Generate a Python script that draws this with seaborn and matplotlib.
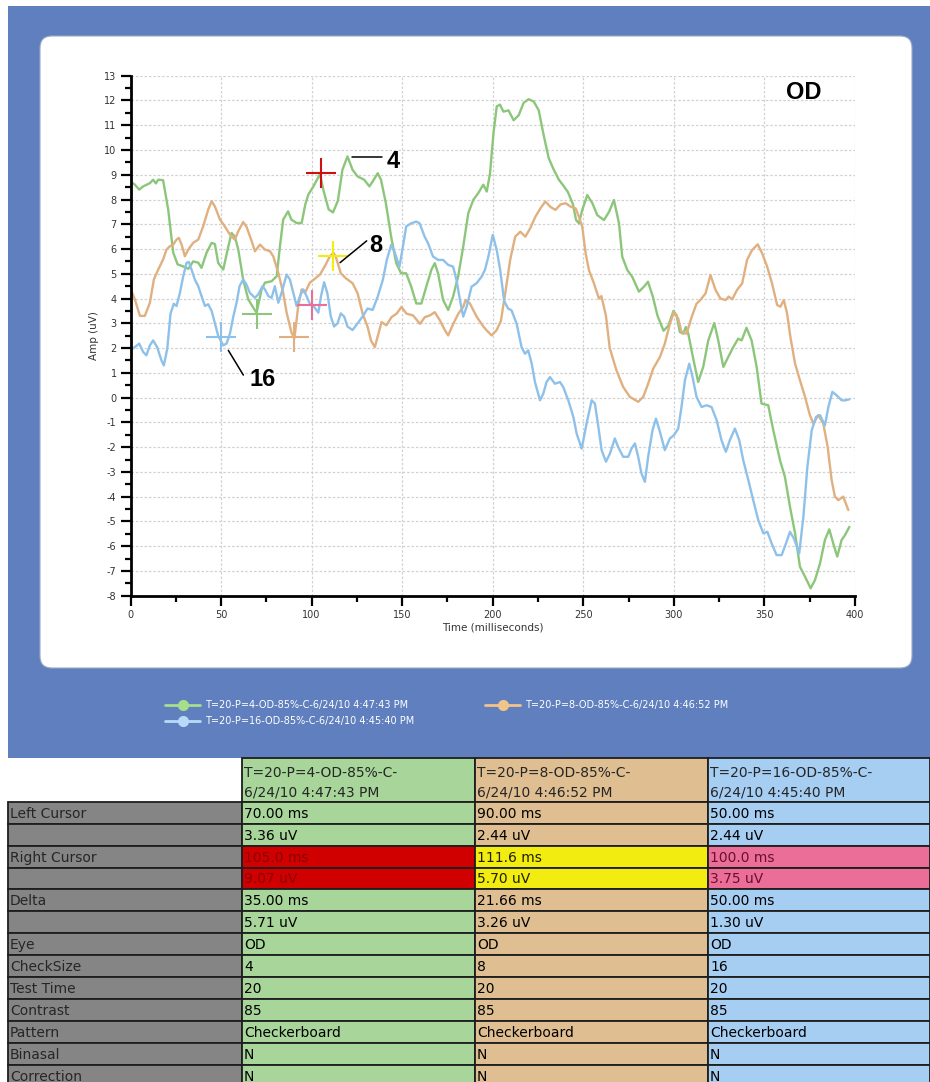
import matplotlib
matplotlib.use("Agg")
import numpy as np
import pandas as pd
import matplotlib.pyplot as plt
import seaborn as sns
from matplotlib.patches import Rectangle, FancyBboxPatch
from matplotlib.ticker import MultipleLocator

sns.set_style("white")
plt.rcParams["font.family"] = ["DejaVu Sans"]
plt.rcParams["axes.unicode_minus"] = False

# ---------------- data ----------------
series_names = ["T=20-P=4-OD-85%-C-6/24/10 4:47:43 PM",
                "T=20-P=8-OD-85%-C-6/24/10 4:46:52 PM",
                "T=20-P=16-OD-85%-C-6/24/10 4:45:40 PM"]

green_t = [0, 2.4, 4.8, 7, 10.7, 12.5, 14, 15.3, 18, 20.8, 23.6, 26, 29, 31.9, 34.6, 37.4, 39.2, 42, 44.8, 46.6,
           48.4, 51.2, 54, 55.8, 57.6, 59.5, 62.2, 65, 67.8, 69.6, 72.4, 74.2, 77.9, 80.7, 82.5, 84.3, 87, 88.8,
           91.7, 94.5, 96.5, 98.2, 101, 104.6, 106.6, 109.4, 111.8, 114.5, 117, 119.8, 122.6, 125.4, 129, 131.9,
           133.7, 136.5, 138.3, 141, 143.9, 146.7, 149.4, 152.2, 155, 157.8, 160.6, 163.3, 166.1, 168, 169.8,
           172.6, 175.4, 178.1, 180.9, 183.7, 186.5, 189.3, 192, 194.8, 196.7, 198.5, 200.4, 202.2, 204, 205.9,
           208.7, 211.5, 214.3, 217, 219.8, 222.6, 225.4, 228.1, 230.9, 233.7, 236.5, 239.3, 241.5, 244.3, 246,
           247.6, 249.4, 252.2, 255, 257.7, 261.4, 264.2, 266.9, 269.7, 271.5, 274.3, 277, 280.7, 283.5, 285.7,
           288.3, 291, 294.3, 296.9, 299.8, 301.5, 303.3, 305.2, 306.6, 307.9, 310.7, 313.4, 316.2, 319, 322.3,
           324.5, 327.3, 330, 332.8, 335.5, 337.4, 340.1, 342.9, 345.7, 348.4, 352.1, 354.9, 358.6, 361.3, 364.1,
           366.9, 369.6, 372.4, 375.5, 377.9, 380.7, 383.4, 385.8, 388, 390.2, 392.6, 394.5, 396.9]
green_v = [8.73, 8.6, 8.4, 8.53, 8.66, 8.8, 8.65, 8.8, 8.78, 7.6, 5.85, 5.38, 5.3, 5.2, 5.5, 5.45, 5.24, 5.85, 6.25, 6.2,
           5.44, 5.17, 6.1, 6.65, 6.5, 5.98, 4.77, 3.97, 3.63, 3.43, 4.37, 4.64, 4.7, 4.9, 6.1, 7.19, 7.52, 7.19,
           7.05, 7.05, 7.8, 8.2, 8.53, 9.03, 8.35, 7.6, 7.48, 7.95, 9.2, 9.74, 9.2, 8.93, 8.8, 8.53,
           8.73, 9.06, 8.8, 7.85, 6.5, 5.43, 5.02, 5.02, 4.48, 3.8, 3.8, 4.48, 5.16, 5.43, 5.02,
           3.94, 3.54, 4.08, 4.89, 6.1, 7.45, 7.99, 8.26, 8.6, 8.32, 9.06, 10.68, 11.76, 11.83, 11.55,
           11.6, 11.2, 11.4, 11.9, 12.05, 11.96, 11.6, 10.6, 9.67, 9.2, 8.8, 8.53, 8.3, 7.8, 7.17,
           7.04, 7.58, 8.18, 7.85, 7.37, 7.17, 7.5, 7.98, 7.04, 5.69, 5.15, 4.88, 4.28, 4.48, 4.68,
           4.1, 3.3, 2.7, 2.9, 3.5, 3.32, 2.65, 2.58, 2.85, 2.6, 1.57, 0.63, 1.24, 2.31, 3.01,
           2.31, 1.24, 1.64, 2.04, 2.38, 2.31, 2.82, 2.31, 1.24, -0.24, -0.31, -1.32, -2.53, -3.2, -4.41,
           -5.48, -6.83, -7.23, -7.7, -7.37, -6.69, -5.75, -5.32, -5.89, -6.42, -5.75, -5.55, -5.22]

orange_t = [0, 2.4, 5.2, 7.9, 10.7, 12.9, 15.3, 18, 19.9, 21.7, 23.6, 25.4, 26.7, 28.2, 30, 31.9, 34.6, 37.4, 40.1,
            42.9, 44.8, 46.6, 49.4, 52.1, 54.9, 57.6, 59.5, 62.2, 64, 66.9, 68.7, 71.5, 74.2, 77, 78.8, 81.6, 84.3,
            86.2, 88.9, 90.5, 92.6, 94.5, 96.3, 99, 101.8, 104.6, 107.3, 110.1, 112, 113.3, 116.1, 118.9, 122.6,
            125.4, 128.1, 130.9, 132.8, 134.9, 138.6, 141.3, 144.1, 146.9, 149.6, 152.4, 156, 159.8, 162.5, 165.3,
            168, 170.8, 173.6, 175.4, 178.2, 181, 183.7, 185, 187.4, 191.1, 194.8, 196.6, 199.4, 202.1, 204.5,
            206.9, 209.6, 212.4, 215.2, 218, 220.7, 223.5, 226.3, 229, 231.9, 234.6, 237.4, 240.3, 243, 245.8,
            247.6, 249.4, 251.3, 253.1, 255.9, 258.6, 260, 262.5, 264.6, 268.3, 272, 275.7, 280.3, 283.1, 285.8,
            288.6, 292.3, 295, 297.8, 300, 302.4, 304.2, 307, 309.8, 312.5, 314.7, 317.5, 320.2, 323, 325.7, 328.5,
            330.3, 332.2, 334.9, 337.7, 340.4, 343.2, 346.3, 348.7, 351.5, 354.2, 357, 358.8, 360.7, 362.5, 364.3,
            366.9, 369.6, 372.4, 375.1, 377, 379.7, 382.5, 384.9, 387.1, 388.9, 390.8, 393.5, 396.3]
orange_v = [4.4, 3.97, 3.3, 3.3, 3.83, 4.77, 5.17, 5.58, 5.98, 6.11, 6.18, 6.38, 6.45, 6.18, 5.71, 5.98, 6.25, 6.38, 6.91,
            7.59, 7.93, 7.72, 7.19, 6.91, 6.58, 6.38, 6.72, 7.09, 6.91, 6.32, 5.91, 6.18, 5.98, 5.91, 5.71, 5.04, 4.23,
            3.43, 2.62, 2.4, 3.7, 4.37, 4.23, 4.64, 4.8, 4.97, 5.31, 5.71, 5.85, 5.7, 5.02, 4.82, 4.62,
            4.21, 3.4, 2.86, 2.3, 2.04, 3.05, 2.92, 3.25, 3.39, 3.66, 3.39, 3.32, 2.98, 3.25, 3.32,
            3.45, 3.12, 2.72, 2.51, 2.98, 3.39, 3.66, 3.94, 3.8, 3.27, 2.87, 2.72, 2.51, 2.72, 3.1,
            4.21, 5.56, 6.5, 6.7, 6.5, 6.84, 7.3, 7.64, 7.92, 7.7, 7.58, 7.8, 7.85, 7.71, 7.64,
            7.3, 6.9, 5.82, 5.15, 4.61, 4.0, 4.1, 3.3, 2.0, 1.1, 0.43, 0.03, -0.17, 0.03, 0.56,
            1.17, 1.64, 2.18, 2.98, 3.45, 3.19, 2.65, 2.58, 3.25, 3.79, 3.95, 4.21, 4.95, 4.35, 4.0, 3.94,
            4.08, 3.97, 4.35, 4.61, 5.56, 5.96, 6.19, 5.83, 5.29, 4.61, 3.74, 3.67, 3.94, 3.4, 2.46,
            1.37, 0.7, 0.03, -0.71, -1.05, -0.71, -1.05, -1.99, -3.33, -4.0, -4.14, -4.0, -4.54]

blue_t = [0, 2.4, 4.8, 7, 8.8, 10.7, 12.5, 14.7, 17.1, 18.4, 20.3, 22.1, 23.9, 25.4, 27.3, 29.1, 30.9, 32.2, 33.7,
          35.5, 37.4, 39.2, 41.1, 42.9, 44.8, 46.6, 48.4, 51.2, 53, 54.9, 56.7, 58.6, 60.2, 62.2, 64, 65.9, 68.7,
          70.5, 72.9, 74.2, 76.1, 77.9, 79.7, 81.6, 83.4, 86.2, 88, 89.9, 91.7, 93.6, 95.4, 97.2, 99.1, 101, 103.7,
          105.2, 106.9, 108.7, 110.6, 112.4, 114.3, 116.1, 118, 119.8, 122.6, 125.4, 128.1, 130.9, 133.7, 136.5,
          139.3, 141.5, 143.9, 145.7, 148.5, 150.4, 152.2, 155, 157.8, 159.6, 162.4, 164.3, 167, 169.8, 172.6,
          175.4, 178.1, 180, 181.9, 183.7, 185.6, 188.3, 191.1, 193.9, 195.7, 197.6, 200, 202.2, 204.1, 206.3,
          208.5, 210.4, 213.2, 215.9, 217.8, 219.6, 221.5, 223.3, 226.1, 227.9, 229.7, 231.6, 234.3, 237.1, 238.9,
          241.7, 244.5, 246.3, 249.1, 251.8, 254.6, 256.4, 258.3, 260.1, 262.5, 264.7, 267.4, 269.2, 272, 274.8,
          276.6, 278.5, 280.3, 282.1, 284, 285.8, 288.2, 290.1, 292.3, 295, 297.8, 300, 302.4, 304.2, 306.1, 308.5,
          310.3, 312.5, 315.3, 318, 320.8, 323.6, 326.3, 328.7, 330.9, 333.7, 336.1, 338.3, 341.1, 343.8, 346.6,
          349.4, 351.6, 354, 356.7, 359.5, 361.9, 364.1, 366.3, 369.2, 371.5, 373.7, 376.1, 378.5, 380.7, 383.4,
          385.3, 387.5, 389.9, 392.6, 394.5, 396.9]
blue_v = [1.91, 2.04, 2.18, 1.84, 1.71, 2.11, 2.31, 2.04, 1.5, 1.3, 1.98, 3.39, 3.79, 3.7, 4.23, 4.9, 5.44, 5.48, 5.17,
          4.77, 4.5, 4.1, 3.7, 3.77, 3.5, 3.0, 2.5, 2.11, 2.18, 2.58, 3.25, 3.85, 4.5, 4.77, 4.57, 4.23, 4.03,
          4.17, 4.5, 4.37, 4.1, 4.03, 4.5, 3.83, 4.23, 4.97, 4.77, 4.23, 3.7, 4.1, 4.37, 4.1, 3.77, 3.7, 3.43,
          4.1, 4.66, 4.21, 3.27, 2.87, 3.0, 3.4, 3.27, 2.87, 2.73, 3.0, 3.27, 3.6, 3.54, 4.08,
          4.75, 5.56, 6.17, 5.9, 5.29, 6.1, 6.91, 7.04, 7.11, 7.04, 6.5, 6.23, 5.7, 5.56, 5.56,
          5.36, 5.29, 4.75, 3.94, 3.27, 3.67, 4.48, 4.62, 4.89, 5.16, 5.7, 6.57, 5.96, 5.16, 3.9,
          3.6, 3.52, 2.98, 2.04, 1.77, 1.91, 1.37, 0.63, -0.11, 0.16, 0.63, 0.83, 0.56, 0.63, 0.43,
          -0.11, -0.78, -1.45, -2.06, -1.05, -0.11, -0.24, -1.18, -2.12, -2.59, -2.26, -1.65, -1.99, -2.39, -2.39,
          -2.06, -1.85, -2.39, -3.06, -3.4, -2.39, -1.32, -0.85, -1.38, -2.12, -1.65, -1.52, -1.25, -0.38, 0.7, 1.37,
          0.83, 0.03, -0.38, -0.31, -0.38, -0.91, -1.72, -2.19, -1.72, -1.25, -1.72, -2.53, -3.33, -4.14, -4.95,
          -5.48, -5.42, -5.89, -6.36, -6.36, -5.89, -5.42, -5.69, -6.29, -4.81, -2.8, -1.32, -0.78, -0.71, -1.12,
          -0.38, 0.23, 0.09, -0.11, -0.11, -0.07]

# cursors (ms, uV): left and right for each series
left_ms = [70.0, 90.0, 50.0]
left_uv = [3.36, 2.44, 2.44]
right_ms = [105.0, 111.6, 100.0]
right_uv = [9.07, 5.70, 3.75]

line_colors = ["#8CC67A", "#E0B080", "#8EC1EA"]
right_colors = ["#D01010", "#F2EC10", "#EA6E98"]
legend_colors = ["#A6DE8C", "#F0C48A", "#B8DAF8"]

# table
row_labels = ["Left Cursor", "", "Right Cursor", "", "Delta", "", "Eye", "CheckSize",
              "Test Time", "Contrast", "Pattern", "Binasal", "Correction"]
col_head1 = ["T=20-P=4-OD-85%-C-", "T=20-P=8-OD-85%-C-", "T=20-P=16-OD-85%-C-"]
col_head2 = ["6/24/10 4:47:43 PM", "6/24/10 4:46:52 PM", "6/24/10 4:45:40 PM"]
col_vals = [
    ["70.00 ms", "3.36 uV", "105.0 ms", "9.07 uV", "35.00 ms", "5.71 uV", "OD", "4", "20", "85", "Checkerboard", "N", "N"],
    ["90.00 ms", "2.44 uV", "111.6 ms", "5.70 uV", "21.66 ms", "3.26 uV", "OD", "8", "20", "85", "Checkerboard", "N", "N"],
    ["50.00 ms", "2.44 uV", "100.0 ms", "3.75 uV", "50.00 ms", "1.30 uV", "OD", "16", "20", "85", "Checkerboard", "N", "N"],
]
cell_colors = ["#A8D69A", "#DFBF92", "#A6CDF2"]
right_text_colors = ["#8A0000", "#202000", "#6A1030"]

# ---------------- figure ----------------
W, H = 930, 1082
fig = plt.figure(figsize=(W / 100, H / 100), dpi=100)
fig.patch.set_facecolor("white")

bg = fig.add_axes([0, 0, 1, 1])
bg.set_xlim(0, W)
bg.set_ylim(H, 0)
bg.axis("off")

bg.add_patch(Rectangle((8, 6), W - 8, 752, facecolor="#5F7FBE", edgecolor="none"))
bg.add_patch(FancyBboxPatch((40, 36), 872, 632, boxstyle="round,pad=0,rounding_size=12",
                            facecolor="white", edgecolor="#9AA8C8", linewidth=0.8))

# legend
leg_pos = [(165, 705), (485, 705), (165, 721)]
for (lx, ly), c, name in zip(leg_pos, legend_colors, series_names):
    bg.plot([lx, lx + 35], [ly, ly], color=c, lw=2)
    bg.plot([lx + 17.5], [ly], marker="o", ms=7, color=c, mec=c)
    bg.text(lx + 40, ly, name, color="white", fontsize=7, va="center", ha="left")

# table
x_cols = [8, 242, 475, 708, 930]
head_top, row_top, row_h = 758, 801.7, 21.94
edge = "#1E1E1E"
for j in range(3):
    bg.add_patch(Rectangle((x_cols[j + 1], head_top), x_cols[j + 2] - x_cols[j + 1], row_top - head_top,
                           facecolor=cell_colors[j], edgecolor=edge, lw=1.3))
    bg.text(x_cols[j + 1] + 2, 773, col_head1[j], fontsize=10, va="center", ha="left")
    bg.text(x_cols[j + 1] + 2, 792, col_head2[j], fontsize=10, va="center", ha="left")
for i, lab in enumerate(row_labels):
    y0 = row_top + i * row_h
    bg.add_patch(Rectangle((x_cols[0], y0), x_cols[1] - x_cols[0], row_h,
                           facecolor="#858585", edgecolor=edge, lw=1.3))
    bg.text(x_cols[0] + 2, y0 + row_h / 2 + 1, lab, fontsize=10, va="center", ha="left")
    for j in range(3):
        special = i in (2, 3)
        fc = right_colors[j] if special else cell_colors[j]
        if special and j == 0:
            fc = "#D00000"
        bg.add_patch(Rectangle((x_cols[j + 1], y0), x_cols[j + 2] - x_cols[j + 1], row_h,
                               facecolor=fc, edgecolor=edge, lw=1.3))
        tc = right_text_colors[j] if special else "black"
        bg.text(x_cols[j + 1] + 2, y0 + row_h / 2 + 1, col_vals[j][i], fontsize=10,
                va="center", ha="left", color=tc)

# main chart
x0p, x1p, y0p, y1p = 130.5, 855, 75.7, 595.7
ax = fig.add_axes([x0p / W, 1 - y1p / H, (x1p - x0p) / W, (y1p - y0p) / H])
ax.set_facecolor("none")

frames = []
for name, t, v in zip(series_names, [green_t, orange_t, blue_t], [green_v, orange_v, blue_v]):
    frames.append(pd.DataFrame({"t": t, "v": v, "series": name}))
df = pd.concat(frames, ignore_index=True)

ax.grid(True, which="major", color="#D2D2D2", linestyle=(0, (2, 1.5)), linewidth=0.9)
ax.set_axisbelow(True)
sns.lineplot(data=df, x="t", y="v", hue="series", hue_order=series_names,
             palette=dict(zip(series_names, line_colors)), estimator=None, sort=False,
             linewidth=1.7, legend=False, ax=ax)

for k in range(3):
    ax.plot([left_ms[k]], [left_uv[k]], marker="+", ms=22, mew=1.5, color=line_colors[k], linestyle="none")
    ax.plot([right_ms[k]], [right_uv[k]], marker="+", ms=22, mew=1.5, color=right_colors[k], linestyle="none")

ax.set_xlim(0, 400)
ax.set_ylim(-8, 13)
ax.xaxis.set_major_locator(MultipleLocator(50))
ax.xaxis.set_minor_locator(MultipleLocator(25))
ax.yaxis.set_major_locator(MultipleLocator(1))
ax.yaxis.set_minor_locator(MultipleLocator(0.5))
for s in ["top", "right"]:
    ax.spines[s].set_visible(False)
for s in ["left", "bottom"]:
    ax.spines[s].set_linewidth(2)
    ax.spines[s].set_color("black")
ax.tick_params(axis="both", which="major", direction="out", length=7, width=1.6,
               labelsize=7, labelcolor="#333333", color="black", pad=3)
ax.tick_params(axis="both", which="minor", direction="out", length=4, width=1.6, color="black")
ax.tick_params(axis="x", which="both", bottom=True)
ax.tick_params(axis="y", which="both", left=True)
ax.set_xlabel("Time (milliseconds)", fontsize=7.5, color="#333333", labelpad=2)
ax.set_ylabel("Amp (uV)", fontsize=7.5, color="#333333", labelpad=4)

bold = dict(fontfamily="Liberation Sans", fontweight="bold", fontsize=17, color="black")
ax.text(371.9, 12.33, "OD", ha="center", va="center", **bold)
ax.text(145.0, 9.54, "4", ha="center", va="center", **bold)
ax.text(135.3, 6.13, "8", ha="center", va="center", **bold)
ax.text(72.9, 0.75, "16", ha="center", va="center", **bold)
ax.plot([122.3, 138.9], [9.70, 9.70], color="black", lw=1.1)
ax.plot([115.7, 130.4], [5.45, 6.33], color="black", lw=1.1)
ax.plot([54.0, 62.3], [1.91, 0.91], color="black", lw=1.1)

fig.savefig("out.png", dpi=100)
